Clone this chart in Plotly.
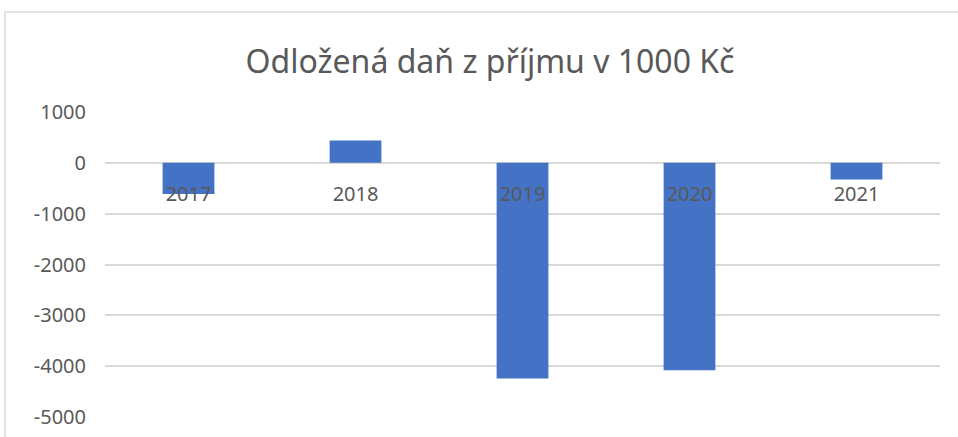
import plotly.graph_objects as go

years = ["2017", "2018", "2019", "2020", "2021"]
values = [-615, 440, -4245, -4080, -330]
y_ticks = [1000, 0, -1000, -2000, -3000, -4000, -5000]
y_tick_text = ["1000", "0", "-1000", "-2000", "-3000", "-4000", "-5000"]

W, H = 958, 437
ml, mr, mt, mb = 105, 18, 112, 20
pw, ph = W - ml - mr, H - mt - mb

fig = go.Figure(go.Bar(x=years, y=values, marker=dict(color="#4472C4", line=dict(width=0)), width=0.31))

ymin, ymax = -5000, 1000
zero_pos = (0 - ymin) / (ymax - ymin)

fig.update_layout(
    width=W, height=H,
    margin=dict(l=ml, r=mr, t=mt, b=mb, autoexpand=False),
    paper_bgcolor="white", plot_bgcolor="white",
    font=dict(family="Noto Sans", color="#595959"),
    title=dict(text="Odložená daň z příjmu v 1000 Kč", x=490 / W, xanchor="center",
               y=1 - 62 / H, yanchor="middle", font=dict(size=32, color="#595959")),
    showlegend=False,
    xaxis=dict(type="category", showgrid=False, showline=False, ticks="", automargin=False,
               anchor="free", position=zero_pos, tickfont=dict(size=20, color="#595959"),
               ticklabelstandoff=17),
    yaxis=dict(range=[ymin, ymax], tickvals=y_ticks, ticktext=y_tick_text, showgrid=True,
               gridcolor="#d9d9d9", gridwidth=1.5, zeroline=True, zerolinecolor="#d9d9d9",
               zerolinewidth=1.5, showline=False, ticks="", automargin=False,
               tickfont=dict(size=20, color="#595959"), ticklabelstandoff=18),
    shapes=[dict(type="rect", xref="paper", yref="paper",
                 x0=(5 - ml) / pw, x1=(W + 20 - ml) / pw,
                 y0=(H - mb - (H + 20)) / ph, y1=(H - mb - 12) / ph,
                 line=dict(color="#d9d9d9", width=1.5), fillcolor="rgba(0,0,0,0)", layer="below")],
)

fig.write_html("out.html", config={"displayModeBar": False},
               post_script="document.body.style.margin='0';document.body.style.overflow='hidden';")
